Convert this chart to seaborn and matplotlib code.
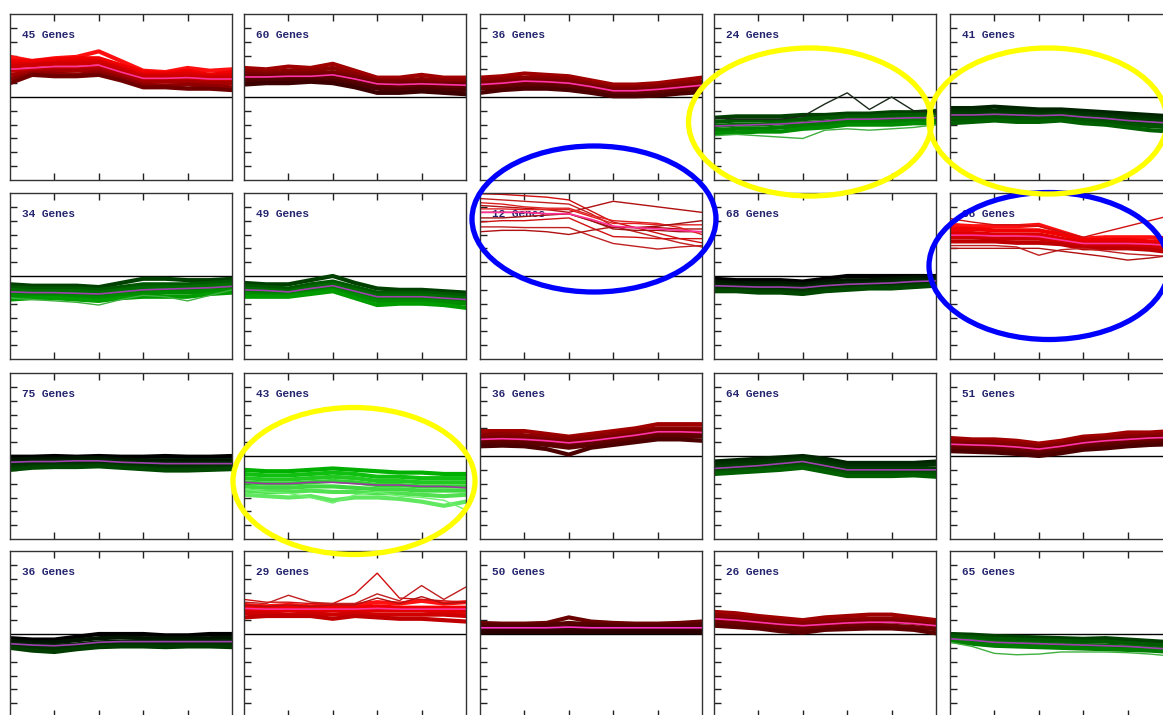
import matplotlib
matplotlib.use("Agg")
import matplotlib.pyplot as plt
import seaborn as sns
import pandas as pd
from matplotlib.patches import Ellipse

# ---------------- data ----------------
TIME = [0, 0.5, 1, 1.5, 2, 2.5, 3, 3.5, 4, 4.5, 5]
GENE_COUNTS = [45, 60, 36, 24, 41,
               34, 49, 12, 68, 38,
               75, 43, 36, 64, 51,
               36, 29, 50, 26, 65]
TONES = ["red", "darkred", "darkred", "green", "darkgreen",
         "green", "green", "red", "blackgreen", "red",
         "blackgreen", "brightgreen", "darkred", "darkgreen", "darkred",
         "blackgreen", "red", "vdarkred", "darkred", "green"]

MEAN_01 = [2.0, 2.1, 2.2, 2.2, 2.3, 1.8, 1.35, 1.35, 1.4, 1.3, 1.3]
GENES_01 = [[2.9, 2.6, 2.8, 2.9, 3.3, 2.6, 1.9, 1.8, 2.1, 1.9, 2.0],
            [2.6, 2.6, 2.7, 2.8, 2.8, 2.3, 1.8, 1.7, 1.9, 1.6, 1.8],
            [2.4, 2.4, 2.5, 2.6, 2.6, 2.1, 1.6, 1.6, 1.7, 1.5, 1.6],
            [2.2, 2.3, 2.4, 2.4, 2.5, 2.0, 1.5, 1.5, 1.5, 1.4, 1.4],
            [1.9, 2.0, 2.1, 2.1, 2.2, 1.8, 1.3, 1.3, 1.3, 1.2, 1.2],
            [1.6, 1.8, 1.9, 1.9, 2.0, 1.6, 1.1, 1.1, 1.1, 1.0, 1.0],
            [1.3, 1.7, 1.7, 1.6, 1.8, 1.4, 0.9, 0.8, 0.9, 0.8, 0.7],
            [1.0, 1.6, 1.5, 1.5, 1.6, 1.2, 0.7, 0.7, 0.6, 0.6, 0.5]]
EXTRA_01 = []

MEAN_02 = [1.45, 1.45, 1.5, 1.5, 1.6, 1.3, 0.95, 0.9, 0.95, 0.9, 0.85]
GENES_02 = [[2.1, 2.0, 2.2, 2.1, 2.4, 1.9, 1.4, 1.4, 1.6, 1.4, 1.4],
            [1.9, 1.8, 1.9, 1.9, 2.1, 1.7, 1.2, 1.2, 1.3, 1.2, 1.2],
            [1.7, 1.6, 1.7, 1.7, 1.8, 1.5, 1.1, 1.1, 1.1, 1.0, 1.0],
            [1.5, 1.5, 1.5, 1.5, 1.6, 1.3, 0.95, 0.9, 0.95, 0.9, 0.9],
            [1.3, 1.3, 1.4, 1.4, 1.4, 1.1, 0.8, 0.7, 0.8, 0.7, 0.7],
            [1.1, 1.2, 1.2, 1.2, 1.2, 0.9, 0.6, 0.5, 0.6, 0.5, 0.5],
            [0.9, 1.0, 1.0, 1.1, 1.0, 0.7, 0.3, 0.3, 0.4, 0.3, 0.2]]
EXTRA_02 = []

MEAN_03 = [0.9, 1.0, 1.15, 1.1, 1.0, 0.75, 0.45, 0.45, 0.55, 0.7, 0.85]
GENES_03 = [[1.4, 1.5, 1.7, 1.6, 1.5, 1.2, 0.9, 0.9, 1.0, 1.2, 1.4],
            [1.2, 1.3, 1.4, 1.4, 1.3, 1.0, 0.7, 0.7, 0.8, 1.0, 1.1],
            [1.0, 1.1, 1.2, 1.2, 1.1, 0.85, 0.55, 0.55, 0.65, 0.8, 0.95],
            [0.8, 0.9, 1.0, 1.0, 0.9, 0.65, 0.35, 0.35, 0.45, 0.6, 0.75],
            [0.6, 0.7, 0.8, 0.8, 0.7, 0.45, 0.15, 0.15, 0.25, 0.4, 0.55],
            [0.3, 0.5, 0.6, 0.6, 0.5, 0.3, 0.05, 0.05, 0.1, 0.25, 0.35]]
EXTRA_03 = []

MEAN_04 = [-2.1, -2.05, -2.0, -1.95, -1.85, -1.75, -1.6, -1.6, -1.55, -1.5, -1.5]
GENES_04 = [[-1.5, -1.4, -1.4, -1.4, -1.3, -1.3, -1.2, -1.2, -1.1, -1.1, -1.0],
            [-1.8, -1.7, -1.7, -1.7, -1.6, -1.5, -1.4, -1.4, -1.3, -1.3, -1.2],
            [-2.1, -2.0, -2.0, -1.9, -1.9, -1.8, -1.6, -1.6, -1.6, -1.5, -1.5],
            [-2.4, -2.3, -2.3, -2.2, -2.1, -2.0, -1.8, -1.8, -1.8, -1.7, -1.7],
            [-2.6, -2.6, -2.5, -2.5, -2.3, -2.2, -2.0, -2.0, -2.0, -1.9, -1.9]]
EXTRA_04 = [[-2.8, -2.7, -2.8, -2.9, -3.0, -2.4, -2.3, -2.4, -2.3, -2.2, -2.0],
            [-1.5, -1.6, -1.6, -1.6, -1.4, -0.5, 0.3, -0.9, 0.0, -1.0, -1.1]]

MEAN_05 = [-1.3, -1.3, -1.25, -1.3, -1.35, -1.3, -1.45, -1.55, -1.7, -1.8, -1.9]
GENES_05 = [[-0.8, -0.8, -0.7, -0.8, -0.9, -0.9, -1.0, -1.1, -1.2, -1.3, -1.4],
            [-1.0, -1.0, -1.0, -1.0, -1.1, -1.1, -1.2, -1.3, -1.4, -1.5, -1.6],
            [-1.2, -1.2, -1.2, -1.2, -1.3, -1.2, -1.4, -1.5, -1.6, -1.7, -1.8],
            [-1.4, -1.4, -1.3, -1.4, -1.4, -1.4, -1.5, -1.6, -1.8, -1.9, -2.0],
            [-1.6, -1.6, -1.5, -1.6, -1.6, -1.5, -1.7, -1.8, -2.0, -2.1, -2.2],
            [-1.9, -1.8, -1.7, -1.8, -1.8, -1.7, -1.9, -2.0, -2.2, -2.4, -2.5]]
EXTRA_05 = []

MEAN_06 = [-1.15, -1.2, -1.2, -1.25, -1.3, -1.15, -1.0, -0.95, -0.9, -0.85, -0.75]
GENES_06 = [[-0.6, -0.7, -0.7, -0.7, -0.8, -0.5, -0.2, -0.2, -0.3, -0.3, -0.2],
            [-0.8, -0.9, -0.9, -0.9, -1.0, -0.8, -0.6, -0.6, -0.6, -0.5, -0.4],
            [-1.0, -1.1, -1.1, -1.1, -1.2, -1.0, -0.85, -0.8, -0.8, -0.7, -0.6],
            [-1.2, -1.3, -1.3, -1.3, -1.4, -1.2, -1.1, -1.0, -1.0, -0.9, -0.8],
            [-1.4, -1.5, -1.5, -1.5, -1.6, -1.4, -1.3, -1.2, -1.2, -1.1, -1.0],
            [-1.7, -1.6, -1.6, -1.7, -1.8, -1.6, -1.5, -1.5, -1.5, -1.3, -1.2]]
EXTRA_06 = [[-1.6, -1.7, -1.8, -1.9, -2.1, -1.7, -1.4, -1.5, -1.8, -1.4, -1.0]]

MEAN_07 = [-1.0, -1.05, -1.15, -0.9, -0.7, -1.1, -1.5, -1.5, -1.5, -1.6, -1.7]
GENES_07 = [[-0.5, -0.6, -0.6, -0.3, 0.0, -0.5, -0.9, -1.0, -1.0, -1.1, -1.2],
            [-0.7, -0.8, -0.9, -0.6, -0.4, -0.8, -1.2, -1.2, -1.2, -1.3, -1.4],
            [-0.9, -1.0, -1.1, -0.8, -0.6, -1.0, -1.4, -1.4, -1.4, -1.5, -1.6],
            [-1.1, -1.2, -1.3, -1.0, -0.8, -1.2, -1.6, -1.6, -1.6, -1.7, -1.8],
            [-1.3, -1.4, -1.4, -1.2, -1.0, -1.4, -1.8, -1.8, -1.8, -1.9, -2.0],
            [-1.5, -1.5, -1.5, -1.3, -1.1, -1.6, -2.1, -2.0, -2.0, -2.1, -2.3]]
EXTRA_07 = []

MEAN_08 = [4.6, 4.6, 4.6, 4.5, 4.5, 4.1, 3.6, 3.5, 3.4, 3.3, 3.2]
GENES_08 = []
EXTRA_08 = [[5.95, 5.9, 5.8, 5.7, 5.5, 4.7, 3.9, 3.5, 3.1, 2.7, 2.4],
            [5.6, 5.5, 5.4, 5.3, 5.2, 4.5, 3.6, 3.2, 2.8, 2.4, 2.1],
            [5.1, 5.0, 4.9, 4.8, 4.6, 5.0, 5.4, 5.2, 5.0, 4.8, 4.6],
            [4.85, 4.85, 4.8, 4.8, 4.8, 4.3, 3.8, 3.8, 3.7, 3.7, 3.7],
            [4.6, 4.6, 4.6, 4.5, 4.5, 4.0, 3.4, 3.3, 3.3, 3.2, 3.2],
            [3.9, 4.0, 4.0, 4.1, 4.2, 3.5, 2.85, 2.8, 2.7, 2.7, 2.7],
            [3.55, 3.55, 3.5, 3.5, 3.5, 2.9, 2.35, 2.15, 1.95, 2.1, 2.2],
            [3.2, 3.3, 3.3, 3.2, 3.0, 3.3, 3.55, 3.5, 3.5, 3.4, 3.4],
            [5.3, 5.2, 5.0, 4.9, 4.9, 4.4, 4.0, 3.9, 3.8, 3.5, 3.0],
            [4.2, 4.2, 4.3, 4.4, 4.5, 4.0, 3.5, 3.5, 3.6, 3.8, 4.0]]

MEAN_09 = [-0.7, -0.75, -0.8, -0.8, -0.85, -0.7, -0.6, -0.55, -0.5, -0.4, -0.35]
GENES_09 = [[-0.2, -0.3, -0.3, -0.3, -0.4, -0.2, 0.0, 0.0, 0.0, 0.0, 0.0],
            [-0.4, -0.5, -0.5, -0.5, -0.6, -0.4, -0.3, -0.3, -0.2, -0.1, -0.1],
            [-0.6, -0.7, -0.7, -0.7, -0.8, -0.6, -0.5, -0.5, -0.4, -0.3, -0.3],
            [-0.8, -0.9, -0.9, -0.9, -1.0, -0.8, -0.7, -0.7, -0.6, -0.5, -0.4],
            [-1.0, -1.0, -1.1, -1.1, -1.2, -1.0, -0.9, -0.8, -0.8, -0.7, -0.6],
            [-1.1, -1.1, -1.2, -1.2, -1.3, -1.1, -1.0, -0.9, -0.9, -0.8, -0.7]]
EXTRA_09 = []

MEAN_10 = [2.95, 2.95, 2.9, 2.9, 2.85, 2.6, 2.35, 2.35, 2.35, 2.3, 2.2]
GENES_10 = [[3.7, 3.6, 3.6, 3.6, 3.7, 3.2, 2.7, 2.8, 2.8, 2.8, 2.7],
            [3.4, 3.4, 3.3, 3.3, 3.3, 3.0, 2.6, 2.6, 2.6, 2.5, 2.5],
            [3.1, 3.1, 3.0, 3.0, 3.0, 2.7, 2.4, 2.4, 2.4, 2.3, 2.3],
            [2.8, 2.8, 2.7, 2.7, 2.7, 2.5, 2.2, 2.2, 2.2, 2.1, 2.0],
            [2.5, 2.5, 2.5, 2.4, 2.4, 2.3, 2.0, 2.0, 2.0, 1.9, 1.7]]
EXTRA_10 = [[4.15, 3.9, 3.7, 3.7, 3.6, 3.2, 2.8, 3.2, 3.6, 4.0, 4.4],
            [2.2, 2.2, 2.2, 2.1, 1.5, 1.9, 2.0, 1.8, 1.6, 1.5, 1.4],
            [2.0, 2.0, 2.0, 2.0, 2.0, 1.8, 1.6, 1.4, 1.15, 1.3, 1.5]]

MEAN_11 = [-0.45, -0.4, -0.4, -0.35, -0.35, -0.45, -0.5, -0.55, -0.55, -0.55, -0.55]
GENES_11 = [[-0.05, -0.05, 0.0, -0.05, 0.0, -0.05, -0.05, 0.0, -0.05, -0.05, 0.0],
            [-0.25, -0.2, -0.2, -0.15, -0.15, -0.25, -0.3, -0.3, -0.3, -0.3, -0.3],
            [-0.45, -0.4, -0.35, -0.35, -0.3, -0.4, -0.5, -0.5, -0.55, -0.5, -0.5],
            [-0.65, -0.6, -0.55, -0.55, -0.5, -0.6, -0.7, -0.75, -0.75, -0.7, -0.7],
            [-0.85, -0.75, -0.7, -0.7, -0.65, -0.75, -0.85, -0.95, -0.95, -0.85, -0.85],
            [-1.0, -0.85, -0.8, -0.8, -0.75, -0.85, -0.95, -1.05, -1.05, -1.0, -0.95]]
EXTRA_11 = []

MEAN_12 = [-1.9, -2.0, -2.0, -1.9, -1.9, -2.0, -2.1, -2.1, -2.2, -2.2, -2.3]
GENES_12 = [[-1.0, -1.1, -1.1, -1.0, -0.9, -1.0, -1.1, -1.2, -1.2, -1.3, -1.3],
            [-1.3, -1.4, -1.4, -1.3, -1.2, -1.3, -1.5, -1.5, -1.6, -1.6, -1.6],
            [-1.6, -1.7, -1.7, -1.6, -1.5, -1.6, -1.8, -1.8, -1.9, -1.9, -1.9],
            [-1.9, -2.0, -2.0, -1.9, -1.8, -1.9, -2.1, -2.1, -2.2, -2.2, -2.2],
            [-2.2, -2.3, -2.3, -2.2, -2.2, -2.3, -2.4, -2.4, -2.5, -2.5, -2.5],
            [-2.5, -2.6, -2.6, -2.5, -2.6, -2.6, -2.7, -2.7, -2.8, -2.9, -2.8],
            [-2.8, -2.9, -3.0, -2.9, -3.2, -3.0, -3.0, -3.1, -3.3, -3.6, -3.3]]
EXTRA_12 = [[-2.4, -2.6, -2.7, -3.0, -3.4, -2.8, -2.6, -2.9, -3.0, -3.2, -3.9]]

MEAN_13 = [1.2, 1.25, 1.2, 1.1, 0.95, 1.1, 1.3, 1.5, 1.75, 1.75, 1.7]
GENES_13 = [[1.8, 1.8, 1.8, 1.6, 1.4, 1.6, 1.8, 2.0, 2.3, 2.3, 2.3],
            [1.5, 1.6, 1.5, 1.4, 1.3, 1.4, 1.6, 1.8, 2.0, 2.0, 2.0],
            [1.3, 1.35, 1.3, 1.2, 1.05, 1.2, 1.4, 1.6, 1.85, 1.85, 1.8],
            [1.1, 1.15, 1.1, 1.0, 0.85, 1.0, 1.2, 1.4, 1.65, 1.65, 1.6],
            [0.9, 0.95, 0.9, 0.8, 0.6, 0.8, 1.0, 1.2, 1.4, 1.4, 1.4],
            [0.7, 0.75, 0.7, 0.5, 0.1, 0.6, 0.8, 1.0, 1.2, 1.2, 1.1]]
EXTRA_13 = []

MEAN_14 = [-0.9, -0.8, -0.7, -0.55, -0.4, -0.7, -1.0, -1.0, -1.0, -1.0, -1.0]
GENES_14 = [[-0.4, -0.3, -0.2, -0.1, 0.0, -0.2, -0.5, -0.5, -0.5, -0.5, -0.4],
            [-0.6, -0.5, -0.4, -0.3, -0.15, -0.4, -0.7, -0.7, -0.7, -0.7, -0.6],
            [-0.8, -0.7, -0.6, -0.45, -0.3, -0.6, -0.9, -0.9, -0.9, -0.9, -0.9],
            [-1.0, -0.9, -0.8, -0.65, -0.5, -0.8, -1.1, -1.1, -1.1, -1.1, -1.1],
            [-1.2, -1.1, -1.0, -0.85, -0.7, -1.0, -1.3, -1.3, -1.3, -1.3, -1.3],
            [-1.3, -1.2, -1.1, -1.0, -0.85, -1.15, -1.45, -1.45, -1.45, -1.4, -1.5]]
EXTRA_14 = []

MEAN_15 = [0.85, 0.8, 0.75, 0.65, 0.5, 0.7, 0.95, 1.1, 1.2, 1.3, 1.35]
GENES_15 = [[1.3, 1.2, 1.2, 1.1, 0.9, 1.1, 1.4, 1.5, 1.7, 1.7, 1.8],
            [1.1, 1.0, 1.0, 0.9, 0.7, 0.9, 1.2, 1.3, 1.45, 1.5, 1.6],
            [0.9, 0.85, 0.8, 0.7, 0.55, 0.75, 1.0, 1.15, 1.25, 1.35, 1.4],
            [0.7, 0.65, 0.6, 0.5, 0.35, 0.55, 0.8, 0.95, 1.05, 1.15, 1.2],
            [0.5, 0.45, 0.4, 0.3, 0.15, 0.35, 0.6, 0.75, 0.85, 0.95, 1.0],
            [0.35, 0.3, 0.25, 0.15, 0.0, 0.2, 0.45, 0.55, 0.7, 0.8, 0.85]]
EXTRA_15 = []

MEAN_16 = [-0.7, -0.8, -0.85, -0.75, -0.6, -0.55, -0.55, -0.55, -0.55, -0.55, -0.55]
GENES_16 = [[-0.3, -0.4, -0.4, -0.2, 0.0, 0.0, 0.0, -0.1, -0.1, 0.0, 0.0],
            [-0.5, -0.6, -0.6, -0.45, -0.3, -0.25, -0.3, -0.3, -0.3, -0.3, -0.25],
            [-0.7, -0.8, -0.85, -0.75, -0.6, -0.55, -0.55, -0.55, -0.55, -0.55, -0.5],
            [-0.9, -1.0, -1.05, -0.95, -0.8, -0.75, -0.75, -0.8, -0.75, -0.75, -0.75],
            [-1.0, -1.2, -1.3, -1.1, -0.95, -0.9, -0.9, -0.95, -0.9, -0.9, -0.95]]
EXTRA_16 = []

MEAN_17 = [1.85, 1.8, 1.8, 1.8, 1.8, 1.8, 1.85, 1.8, 1.8, 1.8, 1.8]
GENES_17 = [[2.1, 2.0, 2.1, 2.0, 2.1, 2.1, 2.3, 2.2, 2.4, 2.2, 2.3],
            [1.9, 1.9, 1.9, 1.9, 1.9, 1.9, 2.0, 1.9, 1.9, 1.9, 1.9],
            [1.7, 1.7, 1.7, 1.7, 1.7, 1.7, 1.7, 1.7, 1.7, 1.6, 1.6],
            [1.5, 1.5, 1.4, 1.5, 1.4, 1.5, 1.4, 1.4, 1.4, 1.4, 1.3],
            [1.2, 1.3, 1.3, 1.3, 1.1, 1.3, 1.2, 1.1, 1.1, 1.0, 0.9]]
EXTRA_17 = [[2.5, 2.3, 2.3, 2.2, 2.2, 2.9, 4.4, 2.6, 2.5, 2.4, 2.3],
            [2.3, 2.2, 2.8, 2.3, 2.2, 2.2, 2.9, 2.4, 3.5, 2.5, 3.4],
            [2.1, 2.0, 2.1, 2.0, 2.1, 2.1, 2.6, 2.2, 2.7, 2.2, 2.3]]

MEAN_18 = [0.45, 0.45, 0.45, 0.45, 0.5, 0.45, 0.45, 0.45, 0.45, 0.45, 0.45]
GENES_18 = [[0.8, 0.75, 0.75, 0.8, 1.2, 0.9, 0.8, 0.75, 0.75, 0.8, 0.9],
            [0.65, 0.6, 0.6, 0.65, 0.8, 0.7, 0.6, 0.6, 0.6, 0.6, 0.7],
            [0.45, 0.45, 0.45, 0.45, 0.5, 0.5, 0.45, 0.45, 0.45, 0.45, 0.45],
            [0.3, 0.3, 0.3, 0.3, 0.3, 0.3, 0.3, 0.3, 0.3, 0.3, 0.3],
            [0.1, 0.15, 0.15, 0.15, 0.15, 0.15, 0.15, 0.15, 0.15, 0.15, 0.1]]
EXTRA_18 = []

MEAN_19 = [1.1, 1.0, 0.85, 0.7, 0.6, 0.7, 0.8, 0.85, 0.85, 0.75, 0.6]
GENES_19 = [[1.6, 1.5, 1.3, 1.15, 1.0, 1.2, 1.3, 1.4, 1.4, 1.2, 1.0],
            [1.35, 1.25, 1.1, 0.95, 0.8, 0.95, 1.05, 1.1, 1.1, 1.0, 0.85],
            [1.1, 1.0, 0.85, 0.7, 0.6, 0.7, 0.8, 0.85, 0.9, 0.8, 0.6],
            [0.85, 0.75, 0.6, 0.45, 0.35, 0.45, 0.55, 0.6, 0.6, 0.5, 0.35],
            [0.6, 0.5, 0.4, 0.2, 0.1, 0.3, 0.35, 0.4, 0.4, 0.3, 0.05]]
EXTRA_19 = []

MEAN_20 = [-0.35, -0.45, -0.6, -0.65, -0.7, -0.75, -0.8, -0.85, -0.9, -1.0, -1.1]
GENES_20 = [[0.0, -0.05, -0.15, -0.2, -0.25, -0.3, -0.35, -0.3, -0.4, -0.5, -0.6],
            [-0.15, -0.25, -0.35, -0.4, -0.45, -0.5, -0.55, -0.55, -0.65, -0.75, -0.85],
            [-0.35, -0.45, -0.6, -0.65, -0.7, -0.75, -0.8, -0.85, -0.9, -1.0, -1.1],
            [-0.5, -0.7, -0.85, -0.9, -0.95, -1.0, -1.05, -1.1, -1.15, -1.2, -1.3]]
EXTRA_20 = [[-0.6, -0.9, -1.4, -1.5, -1.45, -1.3, -1.3, -1.3, -1.35, -1.45, -1.6]]

MEANS = [MEAN_01, MEAN_02, MEAN_03, MEAN_04, MEAN_05, MEAN_06, MEAN_07, MEAN_08, MEAN_09, MEAN_10,
         MEAN_11, MEAN_12, MEAN_13, MEAN_14, MEAN_15, MEAN_16, MEAN_17, MEAN_18, MEAN_19, MEAN_20]
GENES = [GENES_01, GENES_02, GENES_03, GENES_04, GENES_05, GENES_06, GENES_07, GENES_08, GENES_09, GENES_10,
         GENES_11, GENES_12, GENES_13, GENES_14, GENES_15, GENES_16, GENES_17, GENES_18, GENES_19, GENES_20]
EXTRAS = [EXTRA_01, EXTRA_02, EXTRA_03, EXTRA_04, EXTRA_05, EXTRA_06, EXTRA_07, EXTRA_08, EXTRA_09, EXTRA_10,
          EXTRA_11, EXTRA_12, EXTRA_13, EXTRA_14, EXTRA_15, EXTRA_16, EXTRA_17, EXTRA_18, EXTRA_19, EXTRA_20]

# ---------------- style ----------------
PALETTES = {
    "red": ["#ff1010", "#f00000", "#e00000", "#d00000", "#c00000", "#a80000", "#900000", "#700000"],
    "darkred": ["#a00000", "#8c0000", "#7c0000", "#6c0000", "#5c0000", "#4c0000", "#3c0000"],
    "vdarkred": ["#6a0000", "#560000", "#440000", "#360000", "#280000"],
    "brightgreen": ["#00b000", "#10c010", "#20c820", "#30d030", "#40d840", "#50e050", "#60e860"],
    "green": ["#004000", "#005800", "#006c00", "#007c00", "#008c00", "#009c00", "#20a820"],
    "darkgreen": ["#002400", "#003000", "#003c00", "#004800", "#005400", "#006000"],
    "blackgreen": ["#000000", "#001400", "#002400", "#003000", "#003c00", "#004800"],
}
EXTRA_COLORS = {
    "red": ["#d01010", "#c02020", "#b01010", "#e02020", "#a01010"],
    "darkred": ["#901010"], "vdarkred": ["#601010"],
    "brightgreen": ["#70f070"], "green": ["#40b040", "#1a2a1a"],
    "darkgreen": ["#208020"], "blackgreen": ["#103010"],
}
MEAN_COLOR = {"red": "#ff3399", "darkred": "#ff33aa", "vdarkred": "#ff33cc",
              "brightgreen": "#9a3aa0", "green": "#a040b0", "darkgreen": "#a040b0",
              "blackgreen": "#a040b0"}

COL_LEFT = [10, 244, 480, 714, 950]
ROW_TOP = [14, 193, 373, 551]
PW, PH = 222, 166
FW, FH = 1163, 715

sns.set_style("white")
plt.rcParams["font.family"] = ["Liberation Mono", "DejaVu Sans Mono"]

fig = plt.figure(figsize=(FW / 100, FH / 100), dpi=100)

for i in range(20):
    r, c = divmod(i, 5)
    ax = fig.add_axes([COL_LEFT[c] / FW, 1 - (ROW_TOP[r] + PH) / FH, PW / FW, PH / FH])
    tone = TONES[i]
    rows = []
    for g, vals in enumerate(GENES[i]):
        for t, v in zip(TIME, vals):
            rows.append({"time": t, "value": v, "gene": f"g{g}"})
    if rows:
        df = pd.DataFrame(rows)
        pal = PALETTES[tone]
        n = len(GENES[i])
        sns.lineplot(data=df, x="time", y="value", hue="gene",
                     palette=[pal[k % len(pal)] for k in range(n)],
                     estimator=None, legend=False, linewidth=3.0, ax=ax)
    erows = []
    for g, vals in enumerate(EXTRAS[i]):
        for t, v in zip(TIME, vals):
            erows.append({"time": t, "value": v, "gene": f"e{g}"})
    if erows:
        edf = pd.DataFrame(erows)
        ep = EXTRA_COLORS[tone]
        n = len(EXTRAS[i])
        sns.lineplot(data=edf, x="time", y="value", hue="gene",
                     palette=[ep[k % len(ep)] for k in range(n)],
                     estimator=None, legend=False, linewidth=1.0, ax=ax)
    mdf = pd.DataFrame({"time": TIME, "value": MEANS[i]})
    sns.lineplot(data=mdf, x="time", y="value", color=MEAN_COLOR[tone],
                 linewidth=1.2, estimator=None, ax=ax)

    ax.axhline(0, color="black", lw=1.0, zorder=1)
    ax.set_xlim(0, 5)
    ax.set_ylim(-6, 6)
    ax.set_xticks([1, 2, 3, 4])
    ax.set_yticks([-5, -4, -3, -2, -1, 1, 2, 3, 4, 5])
    ax.tick_params(direction="in", length=5, width=1, color="#222222",
                   top=True, bottom=True, left=True, right=False,
                   labelbottom=False, labelleft=False)
    ax.set_xlabel("")
    ax.set_ylabel("")
    for s in ax.spines.values():
        s.set_color("#333333")
        s.set_linewidth(1.0)
    ax.text(0.055, 0.873, f"{GENE_COUNTS[i]} Genes", transform=ax.transAxes,
            fontsize=8, fontweight="bold", color="#24246e", va="center", ha="left",
            zorder=0.5)

# annotation ellipses (pixel centre x, centre y, width, height)
ELLIPSES = [(594, 219, 244, 146, "#0000ff"),
            (1049, 266, 240, 147, "#0000ff"),
            (810, 122, 243, 148, "#ffff00"),
            (1048, 121, 238, 146, "#ffff00"),
            (354, 481, 242, 147, "#ffff00")]
for cx, cy, w, h, col in ELLIPSES:
    e = Ellipse((cx / FW, 1 - cy / FH), w / FW, h / FH, transform=fig.transFigure,
                fill=False, edgecolor=col, linewidth=3.8, zorder=10)
    fig.add_artist(e)

fig.savefig("out.png", dpi=100)
